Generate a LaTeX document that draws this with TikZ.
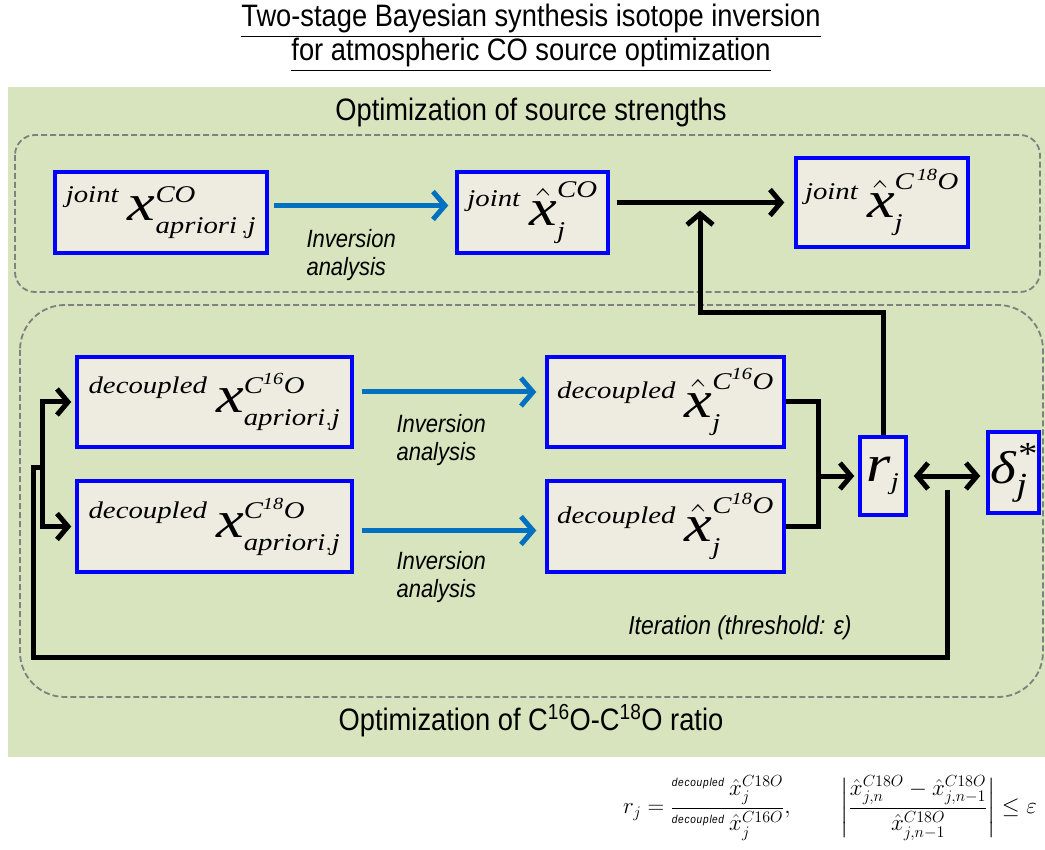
\RequirePackage{fix-cm}
\documentclass[tikz,border=0pt]{standalone}
\usepackage{amsmath}
\usepackage{fontspec}
\setmainfont[FakeStretch=0.88]{Liberation Sans}
\newfontfamily\tms[FakeStretch=1.2]{Liberation Serif}
\usetikzlibrary{arrows.meta, calc}

\definecolor{bggreen}{RGB}{215,228,189}
\definecolor{boxfill}{RGB}{238,236,225}
\definecolor{invblue}{RGB}{0,112,192}
\definecolor{dashgray}{RGB}{128,128,128}

\DeclareMathSizes{52}{52}{24}{17}
\newcommand{\ti}[1]{\text{\tms\itshape #1}}
\newcommand{\boxeq}[1]{\fontsize{52}{52}\selectfont$#1$}

\begin{document}
\begin{tikzpicture}[x=1pt, y=-1pt,
    estbox/.style={draw=blue, line width=3.5pt, fill=boxfill, inner sep=0pt},
    inv/.style={draw=invblue, line width=5pt, -{Straight Barb[length=12pt,width=28pt]}},
    blk/.style={line width=5pt, -{Straight Barb[length=11pt,width=26pt]}},
    thk/.style={line width=5pt},
    stage/.style={draw=dashgray, dash pattern=on 6pt off 3pt, line width=1.8pt},
    lbl/.style={font=\fontsize{25}{28}\selectfont\itshape, align=left}]

    \useasboundingbox (0,0) rectangle (1045,850);

    % Title
    \node[font=\fontsize{31}{32}\selectfont, align=center] (title) at (531,38)
        {\underline{Two-stage Bayesian synthesis isotope inversion}\\
         \underline{for atmospheric CO source optimization}};

    % Background
    \fill[bggreen] (8,87) rectangle (1045,757);

    % Stage frames
    \draw[stage, rounded corners=20pt] (15,135) rectangle (1040,292);
    \draw[stage, rounded corners=45pt] (20,305) rectangle (1043,697);
    \node[font=\fontsize{31}{32}\selectfont] (top) at (531,112)
        {Optimization of source strengths};
    \node[font=\fontsize{31}{32}\selectfont] (bot) at (531,721)
        {Optimization of C\textsuperscript{16}O-C\textsuperscript{18}O ratio};

    % Joint estimates
    \node[estbox, minimum width=212pt, minimum height=81pt] (A) at (161,212.5)
        {\boxeq{{}^{\ti{joint}}\,\ti{x}^{\ti{CO}}_{\ti{apriori}\,,\ti{j}}}};
    \node[estbox, minimum width=151pt, minimum height=81pt] (B) at (532.5,212.5)
        {\boxeq{{}^{\ti{joint}}\,\hat{\ti{x}}^{\ti{CO}}_{\ti{j}}}};
    \node[estbox, minimum width=172pt, minimum height=89pt] (C) at (882,202.5)
        {\boxeq{{}^{\ti{joint}}\,\hat{\ti{x}}^{\ti{C}^{\,\ti{18}}\ti{O}}_{\ti{j}}}};

    % Decoupled estimates
    \node[estbox, minimum width=275pt, minimum height=90pt] (D) at (214.5,402)
        {\boxeq{{}^{\ti{decoupled}}\,\ti{x}^{\ti{C}^{\ti{16}}\ti{O}}_{\ti{apriori},\ti{j}}}};
    \node[estbox, minimum width=275pt, minimum height=91pt] (E) at (214.5,526.5)
        {\boxeq{{}^{\ti{decoupled}}\,\ti{x}^{\ti{C}^{\ti{18}}\ti{O}}_{\ti{apriori},\ti{j}}}};
    \node[estbox, minimum width=237pt, minimum height=90pt] (F) at (665.5,402)
        {\boxeq{{}^{\ti{decoupled}}\,\hat{\ti{x}}^{\ti{C}^{\ti{16}}\ti{O}}_{\ti{j}}}};
    \node[estbox, minimum width=237pt, minimum height=91pt] (G) at (665.5,526.5)
        {\boxeq{{}^{\ti{decoupled}}\,\hat{\ti{x}}^{\ti{C}^{\ti{18}}\ti{O}}_{\ti{j}}}};

    % Ratio and delta
    \node[estbox, minimum width=46pt, minimum height=78pt] (r) at (883,476)
        {\boxeq{\ti{r}_{\ti{j}}}};
    \node[estbox, minimum width=51pt, minimum height=81pt] (d) at (1013.5,472.5)
        {\fontsize{46}{46}\selectfont$\ti{δ}^{\ti{*}}_{\ti{j}}$};

    % Inversion arrows
    \draw[inv] ([xshift=5pt,yshift=7pt]A.east) -- ([xshift=-7pt,yshift=7pt]B.west);
    \draw[inv] ([xshift=8pt,yshift=10pt]D.east) -- ([xshift=-9pt,yshift=10pt]F.west);
    \draw[inv] ([xshift=8pt,yshift=-4pt]E.east) -- ([xshift=-9pt,yshift=-4pt]G.west);
    \node[lbl, anchor=west] (la) at (303,255) {Inversion\\analysis};
    \node[lbl, anchor=west] (lb) at (393,440) {Inversion\\analysis};
    \node[lbl, anchor=west] (lc) at (393,577) {Inversion\\analysis};

    % Joint CO to C18O
    \draw[blk] ([xshift=7pt]B.east |- C.west) -- ([xshift=-10pt]C.west);

    % Ratio feeds back into joint step
    \coordinate (up) at (700,313);
    \draw[blk] (r.north) |- (up) -- ([yshift=-8pt]up |- C.west);

    % Decoupled estimates into ratio
    \coordinate (mg) at (818,467);
    \draw[thk] (F.east) -| (mg |- G.east) -- (G.east);
    \draw[blk] (mg |- r.west) -- ([xshift=-4pt]r.west);

    % Ratio against delta
    \draw[line width=5pt, {Straight Barb[length=11pt,width=26pt]}-{Straight Barb[length=11pt,width=26pt]}]
        ([xshift=6pt]r.east) -- ([xshift=-6pt]r.east -| d.west);

    % Iteration loop
    \coordinate (fb) at ($(r.east)!0.5!(d.west |- r.east)$);
    \coordinate (lpL) at (33,657);
    \coordinate (sp) at (42,467);
    \draw[thk] ([yshift=-14pt]fb) |- (lpL) |- (sp);
    \draw[thk] ([yshift=2.5pt]sp |- D.west) -- ([yshift=-2.5pt]sp |- E.west);
    \draw[blk] (sp |- D.west) -- ([xshift=-4pt]D.west);
    \draw[blk] (sp |- E.west) -- ([xshift=-4pt]E.west);
    \node[font=\fontsize{26}{28}\selectfont\itshape] (it) at (740,628)
        {Iteration (threshold: ε)};

    % Definitions
    \node[font=\fontsize{23}{26}\selectfont] (eq) at (830,808)
        {$r_j=\dfrac{{}^{\scriptscriptstyle\mathit{decoupled}}\,\hat{x}_j^{C18O}}
                    {{}^{\scriptscriptstyle\mathit{decoupled}}\,\hat{x}_j^{C16O}},\qquad
          \left|\dfrac{\hat{x}^{C18O}_{j,n}-\hat{x}^{C18O}_{j,n-1}}
                      {\hat{x}^{C18O}_{j,n-1}}\right|\le\varepsilon$};

\end{tikzpicture}
\end{document}
